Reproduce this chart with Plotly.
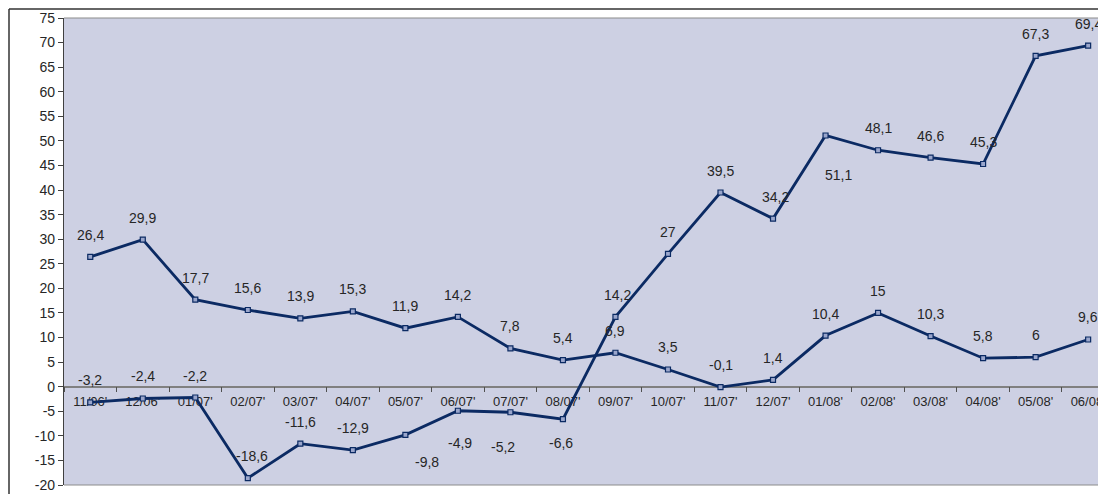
import plotly.graph_objects as go

categories = ["11/06'", "12/06'", "01/07'", "02/07'", "03/07'", "04/07'", "05/07'",
              "06/07'", "07/07'", "08/07'", "09/07'", "10/07'", "11/07'", "12/07'",
              "01/08'", "02/08'", "03/08'", "04/08'", "05/08'", "06/08'"]

series_a = [26.4, 29.9, 17.7, 15.6, 13.9, 15.3, 11.9, 14.2, 7.8, 5.4,
            6.9, 3.5, -0.1, 1.4, 10.4, 15, 10.3, 5.8, 6, 9.6]

series_b = [-3.2, -2.4, -2.2, -18.6, -11.6, -12.9, -9.8, -4.9, -5.2, -6.6,
            14.2, 27, 39.5, 34.2, 51.1, 48.1, 46.6, 45.3, 67.3, 69.4]

y_ticks = list(range(-20, 80, 5))

# label placement (pixels): positive = above the point
label_dy_a = [22] * 20
label_dy_b = [22, 22, 22, 22, 22, 22, -27, -32, -35, -24,
              22, 22, 22, 22, -40, 22, 22, 22, 22, 22]
label_dx_b = [0, 0, 0, 4, 0, 0, 22, 2, -7, -2,
              2, 0, 0, 2, 13, 0, 0, 0, 0, 0]

NAVY = "#0B2A63"
BG = "#CDD0E3"
FONT = "Liberation Sans, Arial, sans-serif"

fig = go.Figure()
for vals in (series_a, series_b):
    fig.add_trace(go.Scatter(
        x=categories, y=vals, mode="lines+markers",
        line=dict(color=NAVY, width=2.8),
        marker=dict(symbol="square", size=5, color="#9AA6CC",
                    line=dict(color=NAVY, width=1.2)),
        hoverinfo="skip", showlegend=False,
    ))

def fmt(v):
    return f"{v:g}".replace(".", ",")

annotations = []
for i, v in enumerate(series_a):
    annotations.append(dict(x=categories[i], y=v, text=fmt(v), showarrow=False,
                            yshift=label_dy_a[i], xref="x", yref="y",
                            font=dict(family=FONT, size=14, color="#262626")))
for i, v in enumerate(series_b):
    annotations.append(dict(x=categories[i], y=v, text=fmt(v), showarrow=False,
                            yshift=label_dy_b[i], xshift=label_dx_b[i], xref="x", yref="y",
                            font=dict(family=FONT, size=14, color="#262626")))

ymin, ymax = -20, 75
zero_pos = (0 - ymin) / (ymax - ymin)

# page has an 8px body margin, so the figure starts at (8, 8)
OFF = 8
L, T, B = 64 - OFF, 18 - OFF, 9
W, H = 1106 - OFF, 494 - OFF
pw = W - L
ph = H - T - B

bx = (1 - L) / pw
by = 1 + (T - 1) / ph

shapes = [
    dict(type="line", xref="paper", yref="paper", x0=0, x1=1, y0=1, y1=1,
         line=dict(color="#8C8C8C", width=1.2)),
    dict(type="line", xref="paper", yref="paper", x0=0, x1=1, y0=0, y1=0,
         line=dict(color="#8C8C8C", width=1.2)),
    dict(type="line", xref="paper", yref="paper",
         x0=bx, x1=1.01, y0=by, y1=by,
         line=dict(color="#333333", width=1.5)),
    dict(type="line", xref="paper", yref="paper",
         x0=bx, x1=bx, y0=by, y1=-0.05,
         line=dict(color="#333333", width=1.5)),
]

fig.update_layout(
    width=W, height=H,
    margin=dict(l=L, r=0, t=T, b=B, pad=0),
    paper_bgcolor="white", plot_bgcolor=BG,
    font=dict(family=FONT, size=13, color="#262626"),
    annotations=annotations, shapes=shapes,
    xaxis=dict(
        type="category", categoryorder="array", categoryarray=categories,
        range=[-0.5, 19.34], anchor="free", position=zero_pos,
        showline=True, linecolor="#808080", linewidth=1.5,
        ticks="outside", ticklen=5, tickcolor="#505050", tickwidth=1,
        tickson="boundaries", showgrid=False, zeroline=False,
        ticklabelstandoff=3,
        tickfont=dict(family=FONT, size=13, color="#262626"),
        layer="below traces", fixedrange=True,
    ),
    yaxis=dict(
        range=[ymin, ymax], tickvals=y_ticks, ticktext=[str(t) for t in y_ticks],
        showline=True, linecolor="#404040", linewidth=1.2,
        ticks="outside", ticklen=5, tickcolor="#404040",
        showgrid=False, zeroline=False,
        tickfont=dict(family=FONT, size=14, color="#262626"),
        fixedrange=True,
    ),
)

fig.write_html("out.html")
